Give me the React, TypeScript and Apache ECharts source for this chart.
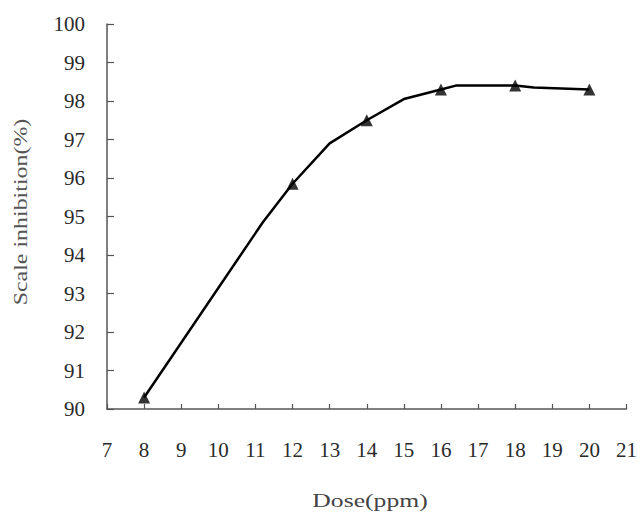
import React, { useEffect, useRef } from "react";
import * as echarts from "echarts";

// Measured points (triangle markers)
const doses = [8, 12, 14, 16, 18, 20];
const inhibition = [90.3, 95.85, 97.5, 98.3, 98.4, 98.3];

// Vertices of the drawn curve
const curveDoses = [8, 11.2, 12, 13, 14, 15, 16, 16.4, 18, 18.5, 20];
const curveInhibition = [90.3, 94.85, 95.85, 96.9, 97.5, 98.05, 98.3, 98.4, 98.4, 98.35, 98.3];

const xTitle = "Dose(ppm)";
const yTitle = "Scale inhibition(%)";

const FONT = "'Liberation Serif', 'Times New Roman', serif";

export default function App() {
  const ref = useRef<HTMLDivElement>(null);
  useEffect(() => {
    if (!ref.current) return;
    const chart = echarts.init(ref.current, undefined, { renderer: "svg" });
    chart.setOption({
      animation: false,
      backgroundColor: "#ffffff",
      grid: { left: 107, right: 11, top: 24, bottom: 106 },
      xAxis: {
        type: "value",
        min: 7,
        max: 21,
        interval: 1,
        axisLine: { show: true, lineStyle: { color: "#555", width: 1.5 } },
        axisTick: { show: true, inside: true, length: 5, lineStyle: { color: "#555", width: 1.2 } },
        axisLabel: { color: "#2a2a2a", fontFamily: FONT, fontSize: 21, margin: 30 },
        splitLine: { show: false },
      },
      yAxis: {
        type: "value",
        min: 90,
        max: 100,
        interval: 1,
        axisLine: { show: true, lineStyle: { color: "#555", width: 1.5 } },
        axisTick: { show: true, inside: true, length: 7, lineStyle: { color: "#555", width: 1.2 } },
        axisLabel: { color: "#2a2a2a", fontFamily: FONT, fontSize: 21, margin: 22 },
        splitLine: { show: false },
      },
      graphic: [
        {
          type: "text",
          x: 370,
          y: 501,
          scaleX: 1.35,
          style: {
            text: xTitle,
            font: `19px ${FONT}`,
            fill: "#444",
            align: "center",
            verticalAlign: "middle",
          },
        },
        {
          type: "text",
          x: 21,
          y: 212,
          rotation: Math.PI / 2,
          scaleX: 1.33,
          style: {
            text: yTitle,
            font: `18px ${FONT}`,
            fill: "#555",
            align: "center",
            verticalAlign: "middle",
          },
        },
      ],
      series: [
        {
          type: "line",
          data: curveDoses.map((d, i) => [d, curveInhibition[i]]),
          showSymbol: false,
          symbol: "none",
          lineStyle: { color: "#000", width: 2.5 },
          z: 2,
        },
        {
          type: "scatter",
          data: doses.map((d, i) => [d, inhibition[i]]),
          symbol: "triangle",
          symbolSize: 12,
          itemStyle: { color: "#000" },
          z: 3,
        },
      ],
    });
    return () => chart.dispose();
  }, []);
  return <div ref={ref} style={{ width: 640, height: 515, position: "absolute", left: 0, top: 0 }} />;
}
